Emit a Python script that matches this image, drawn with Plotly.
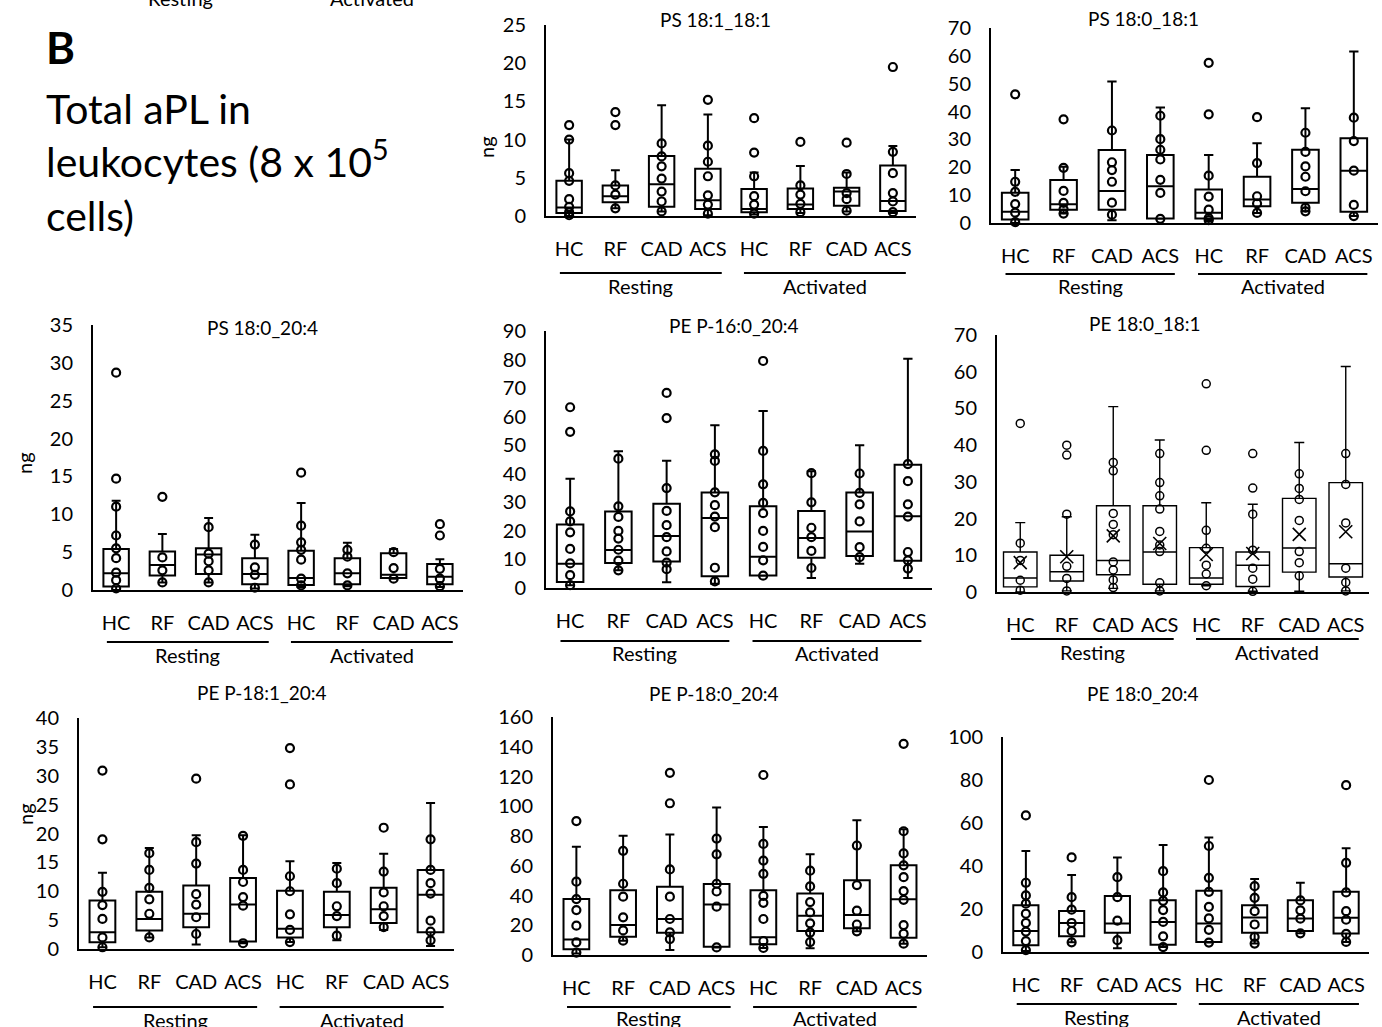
import plotly.graph_objects as go

W, H = 1382, 1027
FONT = "Lato, 'Open Sans', sans-serif"

GROUPS = ["HC", "RF", "CAD", "ACS", "HC", "RF", "CAD", "ACS"]
CONDITIONS = ["Resting", "Activated"]

# ---------------- PS 18:1_18:1 ----------------
ps_181_181_points = [
    [11.9, 10.0, 5.6, 4.6, 2.2, 1.2, 0.5, 0.1],
    [13.6, 11.9, 4.0, 2.8, 1.0],
    [9.5, 7.8, 6.5, 4.9, 3.2, 1.9, 0.6],
    [15.2, 9.2, 7.1, 5.2, 2.7, 1.5, 0.3],
    [12.8, 8.3, 5.2, 2.6, 1.5, 0.3],
    [9.7, 4.0, 2.8, 1.6, 0.5],
    [9.6, 5.5, 3.0, 2.2, 0.7],
    [19.5, 8.4, 5.6, 3.0, 1.9, 0.5],
]
ps_181_181_low = [0.0, 1.0, 0.6, 0.1, 0.2, 0.4, 0.6, 0.4]
ps_181_181_q1 = [0.4, 1.8, 1.2, 0.9, 0.5, 0.9, 1.35, 0.65]
ps_181_181_med = [1.1, 2.6, 4.15, 2.05, 0.9, 1.5, 3.2, 1.95]
ps_181_181_q3 = [4.6, 4.0, 7.85, 6.2, 3.55, 3.6, 3.7, 6.6]
ps_181_181_high = [10.0, 6.0, 14.5, 13.3, 5.7, 6.55, 5.7, 9.15]

# ---------------- PS 18:0_18:1 ----------------
ps_180_181_points = [
    [46.2, 14.8, 11.2, 6.8, 3.7, 0.3],
    [37.2, 19.8, 11.5, 7.2, 5.0, 3.4],
    [33.2, 21.8, 19.0, 14.8, 7.3, 3.0],
    [38.5, 30.1, 26.3, 22.8, 15.5, 10.8, 1.5],
    [57.5, 39.0, 17.0, 9.5, 4.8, 1.8, 1.0],
    [38.0, 21.5, 9.6, 7.0, 3.6],
    [32.4, 25.5, 20.3, 16.6, 11.4, 5.5, 4.2],
    [37.8, 29.4, 18.8, 6.5, 2.5],
]
ps_180_181_low = [0.0, 3.4, 1.0, 1.5, 1.0, 3.6, 4.2, 2.5]
ps_180_181_q1 = [1.3, 4.8, 4.8, 1.6, 1.6, 6.0, 7.3, 4.0]
ps_180_181_med = [4.0, 6.7, 11.5, 13.2, 3.7, 8.4, 12.2, 18.8]
ps_180_181_q3 = [10.9, 15.4, 26.2, 24.4, 12.0, 16.6, 26.3, 30.4]
ps_180_181_high = [19.0, 20.2, 50.8, 41.5, 24.4, 28.6, 41.2, 61.6]

# ---------------- PS 18:0_20:4 ----------------
ps_180_204_points = [
    [28.7, 14.7, 11.0, 7.2, 5.5, 4.2, 2.3, 1.3, 0.2],
    [12.3, 4.3, 2.6, 1.0],
    [8.3, 4.8, 3.8, 2.6, 1.0],
    [6.0, 3.0, 2.0, 0.3],
    [15.5, 8.5, 6.3, 5.3, 4.0, 1.5, 0.6],
    [5.3, 4.4, 2.2, 0.6],
    [5.0, 2.9, 1.5],
    [8.7, 7.2, 2.8, 1.5, 0.5],
]
ps_180_204_low = [0.0, 1.0, 1.0, 0.2, 0.4, 0.5, 1.5, 0.4]
ps_180_204_q1 = [0.45, 1.9, 2.1, 0.75, 0.65, 0.75, 1.6, 0.75]
ps_180_204_med = [2.2, 3.3, 4.7, 2.1, 1.6, 2.2, 2.0, 1.75]
ps_180_204_q3 = [5.4, 5.1, 5.5, 4.2, 5.2, 4.2, 4.85, 3.45]
ps_180_204_high = [11.8, 7.4, 9.5, 7.3, 11.5, 6.25, 5.4, 4.05]

# ---------------- PE P-16:0_20:4 ----------------
pe_p160_204_points = [
    [63.3, 54.7, 26.8, 23.3, 19.5, 13.7, 8.6, 4.5, 1.0],
    [45.3, 28.6, 24.9, 20.0, 17.3, 13.4, 9.6, 6.2],
    [68.3, 59.5, 35.0, 27.0, 22.0, 17.8, 12.8, 8.9, 6.6],
    [46.8, 44.5, 33.5, 29.0, 25.0, 21.3, 7.1, 2.3],
    [79.5, 48.0, 36.3, 29.8, 26.2, 20.0, 14.4, 9.7, 4.3],
    [40.2, 30.0, 21.1, 17.8, 13.0, 7.0],
    [40.1, 33.3, 29.3, 23.3, 14.3, 10.8],
    [43.4, 37.4, 29.3, 25.0, 12.6, 9.7, 6.8],
]
pe_p160_204_low = [1.0, 6.2, 2.0, 1.5, 4.3, 3.5, 8.5, 3.5]
pe_p160_204_q1 = [2.1, 8.75, 9.3, 4.1, 4.4, 10.6, 11.2, 9.5]
pe_p160_204_med = [8.5, 13.3, 18.2, 24.5, 10.9, 17.5, 19.8, 25.1]
pe_p160_204_q3 = [22.2, 26.8, 29.5, 33.4, 28.6, 27.0, 33.4, 43.2]
pe_p160_204_high = [38.3, 47.9, 44.6, 57.0, 62.0, 40.9, 50.0, 80.3]

# ---------------- PE 18:0_18:1 ----------------
pe_180_181_points = [
    [45.9, 13.3, 8.6, 3.2, 0.5],
    [40.0, 37.3, 21.2, 7.0, 3.7, 0.3],
    [35.3, 33.0, 21.4, 18.4, 15.6, 8.2, 6.0, 3.3, 1.2],
    [37.7, 29.8, 26.2, 22.6, 16.5, 12.8, 11.0, 2.5, 0.3],
    [56.7, 38.6, 16.8, 11.9, 7.3, 4.9, 1.7],
    [37.7, 28.3, 21.2, 11.4, 6.5, 3.5, 0.2],
    [32.2, 28.2, 25.2, 19.5, 11.0, 8.0, 4.4],
    [37.7, 29.3, 18.8, 6.5, 2.6, 0.3],
]
pe_180_181_low = [0.0, 0.3, 1.0, 0.3, 1.7, 0.2, 0.2, 0.3]
pe_180_181_q1 = [1.4, 3.0, 4.7, 2.1, 2.1, 1.5, 5.4, 4.1]
pe_180_181_med = [3.8, 5.5, 8.6, 10.9, 3.8, 7.3, 12.0, 7.7]
pe_180_181_q3 = [10.9, 10.0, 23.5, 23.5, 12.1, 10.9, 25.5, 29.8]
pe_180_181_high = [18.9, 20.5, 50.5, 41.4, 24.3, 23.9, 40.7, 61.4]
pe_180_181_mean = [8.0, 9.6, 15.3, 13.2, 10.2, 10.5, 15.7, 16.4]

# ---------------- PE P-18:1_20:4 ----------------
pe_p181_204_points = [
    [30.9, 19.0, 9.9, 7.6, 5.2, 2.0, 0.3],
    [16.6, 13.7, 10.6, 8.6, 6.1, 2.0],
    [29.5, 18.5, 14.8, 9.5, 7.7, 5.5, 2.6],
    [19.6, 13.7, 11.6, 9.0, 7.5, 1.0],
    [34.8, 28.5, 12.6, 10.0, 6.0, 3.3, 1.2],
    [13.9, 11.4, 7.4, 5.7, 2.3],
    [21.0, 13.4, 9.8, 7.4, 5.7, 3.8],
    [19.0, 13.7, 11.4, 9.6, 4.9, 3.0, 1.5],
]
pe_p181_204_low = [0.3, 2.0, 0.8, 1.0, 1.2, 1.5, 3.3, 0.5]
pe_p181_204_q1 = [1.15, 3.2, 3.75, 1.3, 2.0, 3.75, 4.5, 2.9]
pe_p181_204_med = [2.9, 5.2, 6.1, 7.7, 3.5, 5.9, 6.9, 9.4]
pe_p181_204_q3 = [8.4, 9.9, 11.0, 12.3, 10.1, 9.9, 10.6, 13.7]
pe_p181_204_high = [13.2, 17.5, 19.7, 19.7, 15.2, 14.9, 16.5, 25.3]

# ---------------- PE P-18:0_20:4 ----------------
pe_p180_204_points = [
    [90.0, 49.3, 37.6, 30.2, 19.7, 8.5, 1.6],
    [70.0, 47.9, 39.2, 25.3, 16.5, 9.6],
    [122.5, 102.0, 57.5, 39.2, 24.2, 15.2, 10.7],
    [78.3, 67.7, 47.9, 42.7, 32.5, 5.1],
    [121.0, 74.7, 63.5, 54.6, 39.7, 35.1, 24.2, 9.4, 4.7],
    [56.7, 46.1, 35.6, 28.6, 21.3, 15.1, 8.7],
    [73.6, 47.0, 29.8, 20.5, 15.9],
    [142.0, 83.2, 68.3, 60.3, 52.3, 43.0, 37.1, 20.1, 14.3, 7.6],
]
pe_p180_204_low = [1.0, 9.6, 3.4, 5.1, 4.7, 4.5, 15.9, 7.6]
pe_p180_204_q1 = [3.8, 12.3, 15.0, 5.6, 7.2, 16.1, 17.9, 11.6]
pe_p180_204_med = [10.5, 20.1, 24.2, 34.0, 11.9, 26.4, 26.9, 37.4]
pe_p180_204_q3 = [37.6, 43.6, 45.9, 47.7, 43.6, 41.4, 50.3, 60.4]
pe_p180_204_high = [72.7, 80.1, 81.0, 99.1, 86.1, 67.8, 90.6, 84.6]

# ---------------- PE 18:0_20:4 ----------------
pe_180_204_points = [
    [63.5, 32.2, 26.3, 22.5, 17.8, 13.5, 9.5, 5.1, 0.9],
    [44.0, 25.5, 19.7, 13.5, 9.8, 4.5],
    [34.8, 25.5, 14.6, 5.5],
    [37.6, 27.7, 23.8, 19.5, 14.0, 7.3, 2.3],
    [80.0, 49.3, 34.5, 28.0, 21.0, 15.6, 10.3, 4.4],
    [30.6, 25.2, 19.0, 12.8, 7.0, 3.9],
    [24.0, 19.4, 15.5, 8.7],
    [77.6, 41.5, 27.7, 19.0, 15.0, 8.4, 4.7],
]
pe_180_204_low = [0.5, 4.5, 1.7, 2.3, 4.4, 3.9, 8.7, 4.7]
pe_180_204_q1 = [3.1, 7.3, 8.9, 3.4, 4.7, 8.9, 9.8, 8.6]
pe_180_204_med = [9.8, 13.5, 13.2, 14.0, 13.2, 16.0, 15.6, 15.9]
pe_180_204_q3 = [21.8, 19.1, 26.0, 24.1, 28.5, 21.8, 24.1, 28.0]
pe_180_204_high = [47.0, 35.8, 44.0, 49.8, 53.3, 33.9, 32.2, 48.2]

# Panel layout in page pixels: plot box (left, right, baseline, top),
# group-bracket line / label rows, title centre and optional "ng" label.
PANELS = [
    dict(title="PS 18:1_18:1", pts=ps_181_181_points, low=ps_181_181_low, q1=ps_181_181_q1,
         med=ps_181_181_med, q3=ps_181_181_q3, high=ps_181_181_high, ymax=25, dtick=5,
         box=(546, 916, 216, 25), grp=(273, 286), ttl=(715, 20), ng=(486, 147)),
    dict(title="PS 18:0_18:1", pts=ps_180_181_points, low=ps_180_181_low, q1=ps_180_181_q1,
         med=ps_180_181_med, q3=ps_180_181_q3, high=ps_180_181_high, ymax=70, dtick=10,
         box=(991, 1378, 223, 28), grp=(274, 286), ttl=(1143, 19)),
    dict(title="PS 18:0_20:4", pts=ps_180_204_points, low=ps_180_204_low, q1=ps_180_204_q1,
         med=ps_180_204_med, q3=ps_180_204_q3, high=ps_180_204_high, ymax=35, dtick=5,
         box=(93, 463, 590, 325), grp=(642, 655), ttl=(262, 327), ng=(24, 463)),
    dict(title="PE P-16:0_20:4", pts=pe_p160_204_points, low=pe_p160_204_low, q1=pe_p160_204_q1,
         med=pe_p160_204_med, q3=pe_p160_204_q3, high=pe_p160_204_high, ymax=90, dtick=10,
         box=(546, 932, 588, 331), grp=(641, 653), ttl=(734, 325)),
    dict(title="PE 18:0_18:1", pts=pe_180_181_points, low=pe_180_181_low, q1=pe_180_181_q1,
         med=pe_180_181_med, q3=pe_180_181_q3, high=pe_180_181_high, mean=pe_180_181_mean,
         ymax=70, dtick=10, box=(997, 1369, 592, 335), grp=(639, 652), ttl=(1145, 324),
         thin=True),
    dict(title="PE P-18:1_20:4", pts=pe_p181_204_points, low=pe_p181_204_low, q1=pe_p181_204_q1,
         med=pe_p181_204_med, q3=pe_p181_204_q3, high=pe_p181_204_high, ymax=40, dtick=5,
         box=(79, 454, 949, 718), grp=(1007, 1020), ttl=(262, 692), ng=(25, 814)),
    dict(title="PE P-18:0_20:4", pts=pe_p180_204_points, low=pe_p180_204_low, q1=pe_p180_204_q1,
         med=pe_p180_204_med, q3=pe_p180_204_q3, high=pe_p180_204_high, ymax=160, dtick=20,
         box=(553, 927, 955, 717), grp=(1007, 1018), ttl=(714, 693)),
    dict(title="PE 18:0_20:4", pts=pe_180_204_points, low=pe_180_204_low, q1=pe_180_204_q1,
         med=pe_180_204_med, q3=pe_180_204_q3, high=pe_180_204_high, ymax=100, dtick=20,
         box=(1003, 1369, 952, 737), grp=(1004, 1017), ttl=(1143, 693)),
]


def fx(px):
    return px / W


def fy(py):
    return 1 - py / H


fig = go.Figure()
layout = dict(
    width=W, height=H, margin=dict(l=0, r=0, t=0, b=0, autoexpand=False),
    paper_bgcolor="white", plot_bgcolor="white", showlegend=False,
    font=dict(family=FONT, color="black", size=20),
)
shapes, annotations = [], []

for i, p in enumerate(PANELS, start=1):
    sfx = "" if i == 1 else str(i)
    xa, ya = "x" + sfx, "y" + sfx
    thin = p.get("thin", False)
    left, right, base, top = p["box"]
    positions = list(range(len(GROUPS)))

    fig.add_trace(go.Box(
        x=positions, q1=p["q1"], median=p["med"], q3=p["q3"],
        lowerfence=p["low"], upperfence=p["high"],
        width=0.72 if thin else 0.55, whiskerwidth=0.3 if thin else 0.35,
        line=dict(color="black", width=1.4 if thin else 2),
        fillcolor="rgba(0,0,0,0)", boxpoints=False, hoverinfo="skip",
        xaxis=xa, yaxis=ya,
    ))

    xs = [g for g, vals in enumerate(p["pts"]) for _ in vals]
    ys = [v for vals in p["pts"] for v in vals]
    fig.add_trace(go.Scatter(
        x=xs, y=ys, mode="markers", cliponaxis=False, hoverinfo="skip",
        marker=dict(symbol="circle-open", size=8, color="black",
                    line=dict(width=1.5 if thin else 2.2)),
        xaxis=xa, yaxis=ya,
    ))

    if "mean" in p:
        fig.add_trace(go.Scatter(
            x=positions, y=p["mean"], mode="markers", cliponaxis=False, hoverinfo="skip",
            marker=dict(symbol="x-thin-open", size=13, color="black", line=dict(width=1.6)),
            xaxis=xa, yaxis=ya,
        ))

    layout["xaxis" + sfx] = dict(
        domain=[fx(left), fx(right)], anchor=ya, range=[-0.5, 7.5],
        tickmode="array", tickvals=positions, ticktext=GROUPS,
        showline=True, linecolor="black", linewidth=2, ticks="",
        showgrid=False, zeroline=False, ticklabelstandoff=14,
        tickfont=dict(size=20, color="black", family=FONT), fixedrange=True,
    )
    layout["yaxis" + sfx] = dict(
        domain=[fy(base), fy(top)], anchor=xa, range=[0, p["ymax"]],
        tick0=0, dtick=p["dtick"], showline=True, linecolor="black", linewidth=2,
        ticks="", showgrid=False, zeroline=False, ticklabelstandoff=14,
        tickfont=dict(size=20, color="black", family=FONT), fixedrange=True,
    )

    # Resting / Activated brackets under the category labels
    line_y, text_y = p["grp"]
    for (x0, x1), name in zip([(-0.2, 3.3), (3.78, 7.28)], CONDITIONS):
        shapes.append(dict(type="line", xref=xa, yref="paper", x0=x0, x1=x1,
                           y0=fy(line_y), y1=fy(line_y), line=dict(color="black", width=2)))
        annotations.append(dict(text=name, xref=xa, yref="paper", x=(x0 + x1) / 2,
                                y=fy(text_y), xanchor="center", yanchor="middle",
                                showarrow=False, font=dict(size=20, color="black")))

    tx, ty = p["ttl"]
    annotations.append(dict(text=p["title"], xref="paper", yref="paper", x=fx(tx), y=fy(ty),
                            xanchor="center", yanchor="middle", showarrow=False,
                            font=dict(size=19, color="black")))
    if "ng" in p:
        nx, ny = p["ng"]
        annotations.append(dict(text="ng", xref="paper", yref="paper", x=fx(nx), y=fy(ny),
                                xanchor="center", yanchor="middle", textangle=-90,
                                showarrow=False, font=dict(size=20, color="black")))

# Panel letter and heading
annotations.append(dict(text="<b>B</b>", xref="paper", yref="paper", x=fx(44), y=fy(47),
                        xanchor="left", yanchor="middle", showarrow=False,
                        font=dict(size=44, color="black")))
annotations.append(dict(text="Total aPL in<br>leukocytes (8 x 10<sup>5</sup><br>cells)",
                        xref="paper", yref="paper", x=fx(44), y=fy(82), xanchor="left",
                        yanchor="top", align="left", showarrow=False,
                        font=dict(size=41, color="black")))
# Group labels of the row above, cut by the page edge
for cx, name in [(180, "Resting"), (372, "Activated")]:
    annotations.append(dict(text=name, xref="paper", yref="paper", x=fx(cx), y=fy(-1.5),
                            xanchor="center", yanchor="middle", showarrow=False,
                            font=dict(size=20, color="black")))

layout["shapes"] = shapes
layout["annotations"] = annotations
fig.update_layout(**layout)
fig.write_html("out.html")
